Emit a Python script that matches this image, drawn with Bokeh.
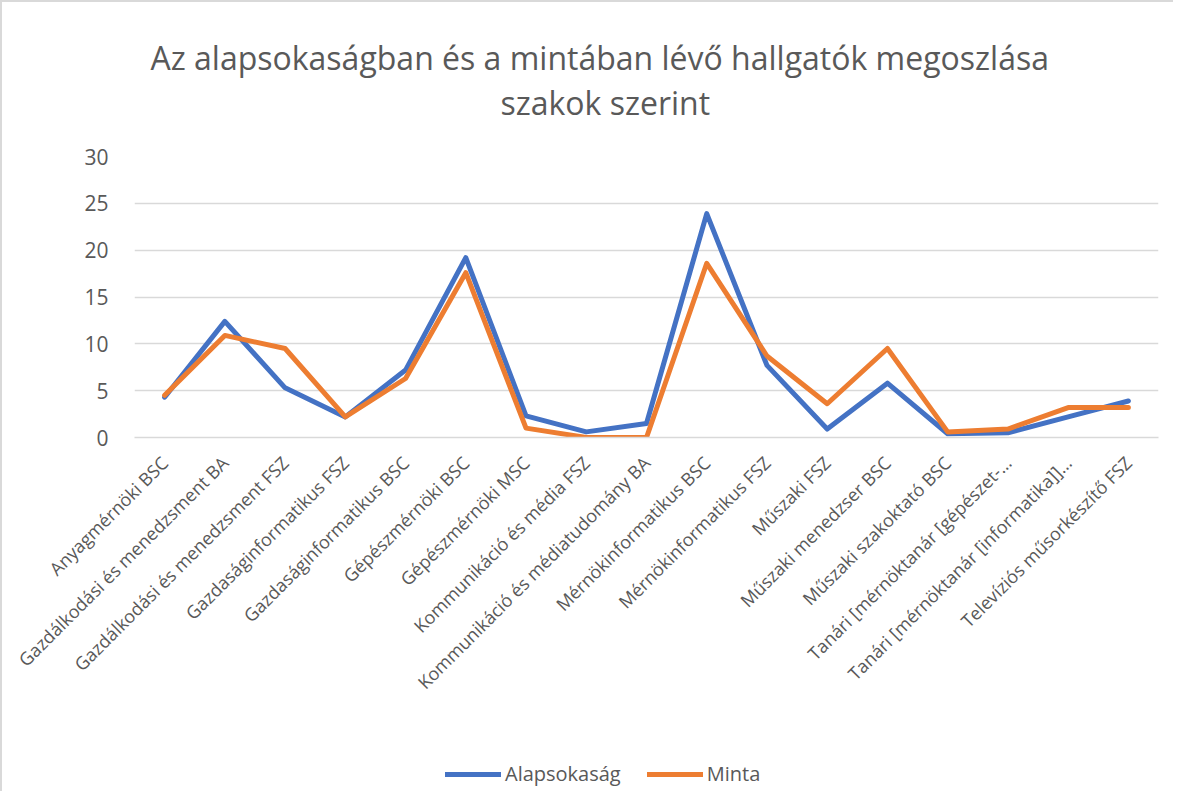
import math
from bokeh.plotting import figure
from bokeh.layouts import column
from bokeh.models import Legend, LegendItem, FactorRange, Range1d, Title
from bokeh.embed import file_html
from bokeh.resources import INLINE

categories = [
    "Anyagmérnöki BSC",
    "Gazdálkodási és menedzsment BA",
    "Gazdálkodási és menedzsment FSZ",
    "Gazdaságinformatikus FSZ",
    "Gazdaságinformatikus BSC",
    "Gépészmérnöki BSC",
    "Gépészmérnöki MSC",
    "Kommunikáció és média FSZ",
    "Kommunikáció és médiatudomány BA",
    "Mérnökinformatikus BSC",
    "Mérnökinformatikus FSZ",
    "Műszaki FSZ",
    "Műszaki menedzser BSC",
    "Műszaki szakoktató BSC",
    "Tanári [mérnöktanár [gépészet-…",
    "Tanári [mérnöktanár [informatika]]…",
    "Televíziós műsorkészítő FSZ",
]
alapsokasag = [4.3, 12.4, 5.3, 2.2, 7.2, 19.2, 2.3, 0.6, 1.5, 23.9, 7.7, 0.9, 5.8, 0.4, 0.5, 2.2, 3.9]
minta = [4.5, 10.9, 9.5, 2.2, 6.3, 17.6, 1.0, 0.0, 0.0, 18.6, 8.7, 3.6, 9.5, 0.6, 0.9, 3.2, 3.2]
y_ticks = [0, 5, 10, 15, 20, 25, 30]
title_lines = ["Az alapsokaságban és a mintában lévő hallgatók megoszlása", "szakok szerint"]
series_names = ["Alapsokaság", "Minta"]
series_values = [alapsokasag, minta]
colors = ["#4472C4", "#ED7D31"]

FONT = "Open Sans"
GREY = "#595959"
W = 1171

p = figure(
    width=W, height=745,
    x_range=FactorRange(*categories),
    y_range=Range1d(0, 30),
    output_backend="svg", toolbar_location=None,
    min_border_left=132, min_border_right=15,
    min_border_top=154, min_border_bottom=310,
)
p.title.text = title_lines[0]
p.title.align = "left"
p.title.offset = 16
p.title.text_font = FONT
p.title.text_font_size = "32px"
p.title.text_font_style = "normal"
p.title.text_color = GREY
p.title.standoff = 0
# spacer between plot area and the second title line (added first = closest to plot)
spacer = Title(text=" ", align="center", text_font=FONT, text_font_size="10px",
               text_font_style="normal", text_color=GREY, standoff=17)
p.add_layout(spacer, "above")
t2 = Title(text=title_lines[1], align="left", offset=366, text_font=FONT, text_font_size="32px",
           text_font_style="normal", text_color=GREY, standoff=0)
p.add_layout(t2, "above")

p.outline_line_color = None
p.background_fill_color = "white"
p.border_fill_color = "white"

p.xgrid.grid_line_color = None
p.ygrid.grid_line_color = "#D9D9D9"
p.ygrid.grid_line_width = 1.5

p.yaxis.ticker = y_ticks
p.yaxis.axis_line_color = None
p.yaxis.major_tick_line_color = None
p.yaxis.minor_tick_line_color = None
p.yaxis.major_label_text_font = FONT
p.yaxis.major_label_text_font_size = "21px"
p.yaxis.major_label_text_color = GREY
p.yaxis.major_label_standoff = 20

p.xaxis.axis_line_color = "#D9D9D9"
p.xaxis.axis_line_width = 1.5
p.xaxis.major_tick_line_color = None
p.xaxis.minor_tick_line_color = None
p.xaxis.major_label_orientation = math.pi / 4
p.xaxis.major_label_text_font = FONT
p.xaxis.major_label_text_font_size = "18px"
p.xaxis.major_label_text_color = GREY
p.xaxis.major_label_standoff = 16

for vals, c in zip(series_values, colors):
    p.line(categories, vals, line_color=c, line_width=5, line_join="round", line_cap="round")

# legend strip below the chart (same series, drawn outside its visible y range)
lg = figure(
    width=W, height=44, x_range=FactorRange(*categories), y_range=Range1d(-2, -1),
    output_backend="svg", toolbar_location=None,
    min_border=0, min_border_left=0, min_border_right=0, min_border_top=0, min_border_bottom=0,
)
lg.axis.visible = False
lg.grid.visible = False
lg.outline_line_color = None
lg.background_fill_color = "white"
lg.border_fill_color = "white"
items = []
for name, vals, c in zip(series_names, series_values, colors):
    rr = lg.line(categories, vals, line_color=c, line_width=5, line_cap="round")
    items.append(LegendItem(label=name, renderers=[rr]))
legend = Legend(
    items=items,
    orientation="horizontal",
    location=(311, 4),
    border_line_color=None,
    background_fill_alpha=0,
    padding=0, margin=0,
    glyph_width=56, label_standoff=4, spacing=26,
    label_text_font=FONT, label_text_font_size="20px", label_text_color=GREY,
)
lg.add_layout(legend, "center")

layout = column(p, lg, spacing=0,
                styles={"border-left": "2px solid #D9D9D9", "border-top": "2px solid #D9D9D9",
                        "background-color": "white"})

open("out.html", "w").write(file_html(layout, INLINE))
